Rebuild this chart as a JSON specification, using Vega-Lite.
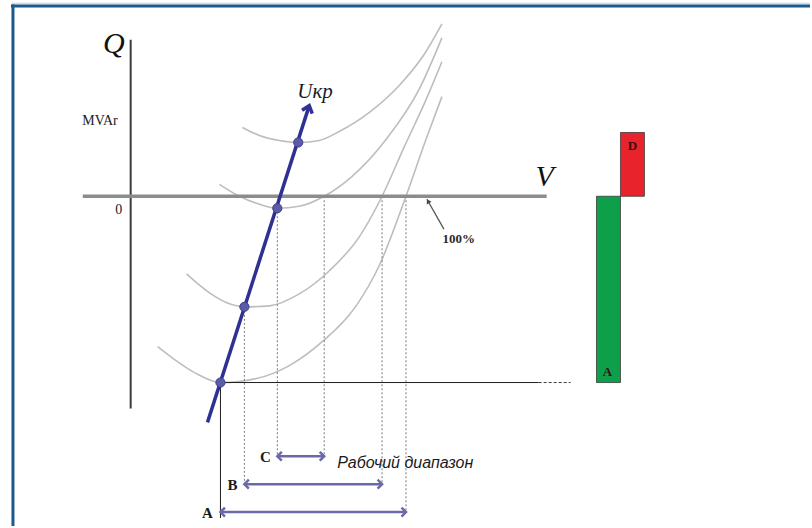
{
  "$schema": "https://vega.github.io/schema/vega-lite/v6.json",
  "width": 812,
  "height": 528,
  "autosize": {"type": "fit", "contains": "padding"},
  "padding": 0,
  "background": "#ffffff",
  "config": {"view": {"stroke": null}},
  "datasets": {
    "frameLight": [{"v": -118, "q": 193.5, "v2": 682, "q2": 193.5}],
    "frameDark": [
      {"v": -119, "q": 191, "v2": 682, "q2": 191},
      {"v": -117, "q": 192.5, "v2": -117, "q2": -331}
    ],
    "curves": [
      {"curve": "1", "v": 113, "q": 69}, {"curve": "1", "v": 130, "q": 61}, {"curve": "1", "v": 150, "q": 56},
      {"curve": "1", "v": 170, "q": 54}, {"curve": "1", "v": 190, "q": 56}, {"curve": "1", "v": 210, "q": 65},
      {"curve": "1", "v": 240, "q": 84}, {"curve": "1", "v": 270, "q": 111}, {"curve": "1", "v": 295, "q": 142},
      {"curve": "1", "v": 313, "q": 173},
      {"curve": "2", "v": 90, "q": 12}, {"curve": "2", "v": 110, "q": 0}, {"curve": "2", "v": 130, "q": -8},
      {"curve": "2", "v": 148, "q": -12}, {"curve": "2", "v": 170, "q": -10}, {"curve": "2", "v": 195, "q": 0},
      {"curve": "2", "v": 223, "q": 20}, {"curve": "2", "v": 257, "q": 57}, {"curve": "2", "v": 290, "q": 107},
      {"curve": "2", "v": 313, "q": 159},
      {"curve": "3", "v": 57, "q": -78}, {"curve": "3", "v": 80, "q": -97}, {"curve": "3", "v": 100, "q": -108},
      {"curve": "3", "v": 115, "q": -111}, {"curve": "3", "v": 140, "q": -110}, {"curve": "3", "v": 170, "q": -98},
      {"curve": "3", "v": 200, "q": -75}, {"curve": "3", "v": 230, "q": -41}, {"curve": "3", "v": 253, "q": 0},
      {"curve": "3", "v": 275, "q": 49}, {"curve": "3", "v": 298, "q": 99}, {"curve": "3", "v": 313, "q": 135},
      {"curve": "4", "v": 28, "q": -151}, {"curve": "4", "v": 45, "q": -164}, {"curve": "4", "v": 65, "q": -177},
      {"curve": "4", "v": 91, "q": -187}, {"curve": "4", "v": 127, "q": -183}, {"curve": "4", "v": 160, "q": -170},
      {"curve": "4", "v": 193, "q": -146}, {"curve": "4", "v": 227, "q": -110}, {"curve": "4", "v": 250, "q": -70},
      {"curve": "4", "v": 277, "q": 0}, {"curve": "4", "v": 297, "q": 57}, {"curve": "4", "v": 313, "q": 100}
    ],
    "projections": [
      {"v": 148, "q": -12, "v2": 148, "q2": -261},
      {"v": 195, "q": 0, "v2": 195, "q2": -261},
      {"v": 115, "q": -111, "v2": 115, "q2": -289},
      {"v": 253, "q": 0, "v2": 253, "q2": -289},
      {"v": 277, "q": 0, "v2": 277, "q2": -317}
    ],
    "baseLines": [
      {"v": 91, "q": -187, "v2": 91, "q2": -323},
      {"v": 91, "q": -187, "v2": 410, "q2": -187}
    ],
    "baseTail": [{"v": 410, "q": -187, "v2": 442, "q2": -187}],
    "qAxis": [{"v": 1, "q": 157, "v2": 1, "q2": -213}],
    "vAxis": [{"v": -47, "q": 0, "v2": 418, "q2": 0}],
    "critical": [{"v": 78, "q": -227, "v2": 180, "q2": 91}],
    "criticalTip": [{"v": 180, "q": 91}],
    "minima": [
      {"v": 169, "q": 54}, {"v": 148, "q": -12}, {"v": 115, "q": -111}, {"v": 91, "q": -187}
    ],
    "ranges": [
      {"range": "C", "v": 148, "q": -261, "v2": 195, "q2": -261},
      {"range": "B", "v": 115, "q": -289, "v2": 253, "q2": -289},
      {"range": "A", "v": 91, "q": -317, "v2": 277, "q2": -317}
    ],
    "rangeLeftEnds": [{"v": 148, "q": -261}, {"v": 115, "q": -289}, {"v": 91, "q": -317}],
    "rangeRightEnds": [{"v": 195, "q": -261}, {"v": 253, "q": -289}, {"v": 277, "q": -317}],
    "pointer": [{"v": 315, "q": -33, "v2": 298, "q2": -3}],
    "pointerTip": [{"v": 298, "q": -3}],
    "stock": [
      {"part": "A", "v": 468, "q": 0, "v2": 492, "q2": -187},
      {"part": "D", "v": 492, "q": 64, "v2": 516, "q2": 0}
    ],
    "axisTitles": [
      {"label": "Q", "v": -16, "q": 153},
      {"label": "V", "v": 416, "q": 19}
    ],
    "unitLabels": [
      {"label": "MVAr", "v": -12, "q": 76}
    ],
    "zeroLabel": [{"label": "0", "v": -11, "q": -14}],
    "rangeLabels": [
      {"label": "C", "v": 136, "q": -262},
      {"label": "B", "v": 103, "q": -290},
      {"label": "A", "v": 78, "q": -318}
    ],
    "stockLabels": [
      {"label": "D", "v": 504, "q": 50},
      {"label": "A", "v": 479, "q": -176}
    ]
  },
  "encoding": {
    "x": {"field": "v", "type": "quantitative", "scale": {"domain": [-130, 682], "nice": false, "zero": false}, "axis": null},
    "y": {"field": "q", "type": "quantitative", "scale": {"domain": [-331, 197], "nice": false, "zero": false}, "axis": null}
  },
  "layer": [
    {
      "data": {"name": "frameLight"},
      "mark": {"type": "rule", "color": "#c6dcef", "strokeWidth": 1.6},
      "encoding": {"x2": {"field": "v2"}, "y2": {"field": "q2"}}
    },
    {
      "data": {"name": "frameDark"},
      "mark": {"type": "rule", "color": "#1b5a8c", "strokeWidth": 3},
      "encoding": {"x2": {"field": "v2"}, "y2": {"field": "q2"}}
    },
    {
      "data": {"name": "curves"},
      "mark": {"type": "line", "interpolate": "monotone", "color": "#bdbdbd", "strokeWidth": 1.6},
      "encoding": {"detail": {"field": "curve", "type": "nominal"}}
    },
    {
      "data": {"name": "projections"},
      "mark": {"type": "rule", "color": "#7a7a7a", "strokeWidth": 1, "strokeDash": [2, 2]},
      "encoding": {"x2": {"field": "v2"}, "y2": {"field": "q2"}}
    },
    {
      "data": {"name": "baseLines"},
      "mark": {"type": "rule", "color": "#1e1e1e", "strokeWidth": 1},
      "encoding": {"x2": {"field": "v2"}, "y2": {"field": "q2"}}
    },
    {
      "data": {"name": "baseTail"},
      "mark": {"type": "rule", "color": "#3a3a3a", "strokeWidth": 1, "strokeDash": [3, 2]},
      "encoding": {"x2": {"field": "v2"}, "y2": {"field": "q2"}}
    },
    {
      "data": {"name": "qAxis"},
      "mark": {"type": "rule", "color": "#3c3c3c", "strokeWidth": 2},
      "encoding": {"x2": {"field": "v2"}, "y2": {"field": "q2"}}
    },
    {
      "data": {"name": "vAxis"},
      "mark": {"type": "rule", "color": "#8c8c8c", "strokeWidth": 3.5},
      "encoding": {"x2": {"field": "v2"}, "y2": {"field": "q2"}}
    },
    {
      "data": {"name": "critical"},
      "mark": {"type": "rule", "color": "#2e3192", "strokeWidth": 3.5},
      "encoding": {"x2": {"field": "v2"}, "y2": {"field": "q2"}}
    },
    {
      "data": {"name": "criticalTip"},
      "mark": {"type": "point", "shape": "M-0.8,1L0,0L0.8,1", "filled": false, "color": "#2e3192", "strokeWidth": 3.5, "size": 180, "angle": 18, "opacity": 1}
    },
    {
      "data": {"name": "minima"},
      "mark": {"type": "point", "shape": "circle", "filled": true, "color": "#5b5ba6", "stroke": "#3d3d8f", "strokeWidth": 1, "size": 85, "opacity": 1}
    },
    {
      "data": {"name": "ranges"},
      "mark": {"type": "rule", "color": "#6c69a8", "strokeWidth": 2.5},
      "encoding": {"x2": {"field": "v2"}, "y2": {"field": "q2"}}
    },
    {
      "data": {"name": "rangeLeftEnds"},
      "mark": {"type": "point", "shape": "M-1,1L0,0L1,1", "filled": false, "color": "#6c69a8", "strokeWidth": 2.5, "size": 80, "angle": 270, "opacity": 1}
    },
    {
      "data": {"name": "rangeRightEnds"},
      "mark": {"type": "point", "shape": "M-1,1L0,0L1,1", "filled": false, "color": "#6c69a8", "strokeWidth": 2.5, "size": 80, "angle": 90, "opacity": 1}
    },
    {
      "data": {"name": "pointer"},
      "mark": {"type": "rule", "color": "#555555", "strokeWidth": 1.3},
      "encoding": {"x2": {"field": "v2"}, "y2": {"field": "q2"}}
    },
    {
      "data": {"name": "pointerTip"},
      "mark": {"type": "point", "shape": "M-1,1.6L0,0L1,1.6Z", "filled": true, "color": "#444444", "size": 30, "angle": 330, "opacity": 1}
    },
    {
      "data": {"name": "stock"},
      "mark": {"type": "rect", "stroke": "#3a3a3a", "strokeWidth": 0.8},
      "encoding": {
        "x2": {"field": "v2"},
        "y2": {"field": "q2"},
        "color": {"field": "part", "type": "nominal", "scale": {"domain": ["A", "D"], "range": ["#0e9f4b", "#e8232b"]}, "legend": null}
      }
    },
    {
      "data": {"name": "axisTitles"},
      "mark": {"type": "text", "font": "Liberation Serif", "fontStyle": "italic", "fontSize": 30, "color": "#111111", "align": "center", "baseline": "middle"},
      "encoding": {"text": {"field": "label"}}
    },
    {
      "data": {"name": "unitLabels"},
      "mark": {"type": "text", "font": "Liberation Serif", "fontSize": 14, "color": "#222222", "align": "right", "baseline": "middle"},
      "encoding": {"text": {"field": "label"}}
    },
    {
      "data": {"name": "zeroLabel"},
      "mark": {"type": "text", "font": "Liberation Serif", "fontSize": 14, "color": "#222222", "align": "center", "baseline": "middle"},
      "encoding": {"text": {"field": "label"}}
    },
    {
      "data": {"values": [{"label": "Uкр", "v": 168, "q": 105}]},
      "mark": {"type": "text", "font": "Liberation Serif", "fontStyle": "italic", "fontSize": 21, "color": "#1a1a2a", "align": "left", "baseline": "middle"},
      "encoding": {"text": {"field": "label"}}
    },
    {
      "data": {"values": [{"label": "100%", "v": 330, "q": -43}]},
      "mark": {"type": "text", "font": "Liberation Serif", "fontWeight": "bold", "fontSize": 13, "color": "#2a2a2a", "align": "center", "baseline": "middle"},
      "encoding": {"text": {"field": "label"}}
    },
    {
      "data": {"name": "rangeLabels"},
      "mark": {"type": "text", "font": "Liberation Serif", "fontWeight": "bold", "fontSize": 15, "color": "#1a1a1a", "align": "center", "baseline": "middle"},
      "encoding": {"text": {"field": "label"}}
    },
    {
      "data": {"values": [{"label": "Рабочий диапазон", "v": 208, "q": -268}]},
      "mark": {"type": "text", "font": "Liberation Sans Narrow, Liberation Sans", "fontStyle": "italic", "fontSize": 16, "color": "#1a1a1a", "align": "left", "baseline": "middle"},
      "encoding": {"text": {"field": "label"}}
    },
    {
      "data": {"name": "stockLabels"},
      "mark": {"type": "text", "font": "Liberation Serif", "fontWeight": "bold", "fontSize": 13, "color": "#3a1010", "align": "center", "baseline": "middle"},
      "encoding": {"text": {"field": "label"}}
    }
  ]
}
